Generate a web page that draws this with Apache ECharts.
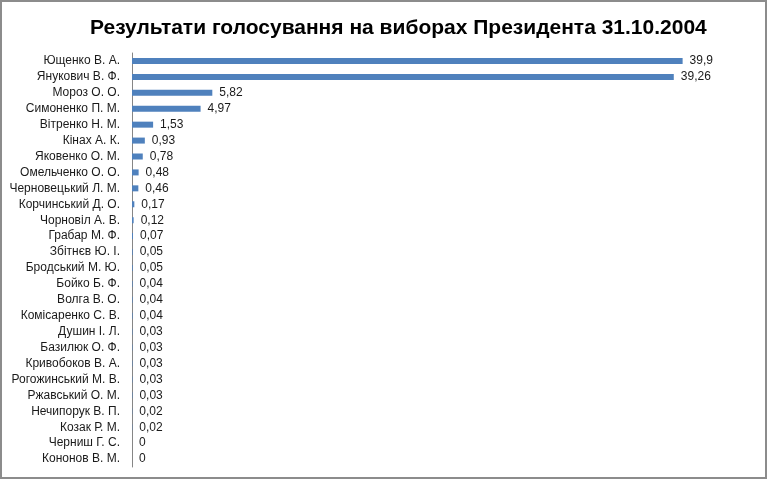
<!DOCTYPE html>
<html>
<head>
<meta charset="utf-8">
<script src="https://cdn.jsdelivr.net/npm/echarts@6/dist/echarts.min.js"></script>
<style>
  html, body { margin: 0; padding: 0; background: #fff; }
  #chart { width: 768px; height: 480px; }
</style>
</head>
<body>
<div id="chart"></div>
<script>
'use strict';

var titleText = 'Результати голосування на виборах Президента 31.10.2004';

var candidates = [
  'Ющенко В. А.', 'Янукович В. Ф.', 'Мороз О. О.', 'Симоненко П. М.',
  'Вітренко Н. М.', 'Кінах А. К.', 'Яковенко О. М.', 'Омельченко О. О.',
  'Черновецький Л. М.', 'Корчинський Д. О.', 'Чорновіл А. В.', 'Грабар М. Ф.',
  'Збітнєв Ю. І.', 'Бродський М. Ю.', 'Бойко Б. Ф.', 'Волга В. О.',
  'Комісаренко С. В.', 'Душин І. Л.', 'Базилюк О. Ф.', 'Кривобоков В. А.',
  'Рогожинський М. В.', 'Ржавський О. М.', 'Нечипорук В. П.', 'Козак Р. М.',
  'Черниш Г. С.', 'Кононов В. М.'
];

var percents = [
  39.9, 39.26, 5.82, 4.97,
  1.53, 0.93, 0.78, 0.48,
  0.46, 0.17, 0.12, 0.07,
  0.05, 0.05, 0.04, 0.04,
  0.04, 0.03, 0.03, 0.03,
  0.03, 0.03, 0.02, 0.02,
  0, 0
];

var font = 'Liberation Sans';

var chart = echarts.init(document.getElementById('chart'));
chart.setOption({
  animation: false,
  backgroundColor: '#fff',
  textStyle: { fontFamily: font },
  title: {
    text: titleText,
    left: 85,
    top: 13,
    textStyle: { fontFamily: font, fontSize: 21, fontWeight: 'bold', color: '#000' }
  },
  graphic: [{
    type: 'rect',
    shape: { x: 1, y: 1, width: 765, height: 477 },
    style: { fill: 'none', stroke: '#8c8c8c', lineWidth: 2 },
    silent: true
  }],
  grid: { left: 132, top: 53, right: 15, bottom: 13, containLabel: false },
  xAxis: {
    type: 'value',
    min: 0,
    max: 45,
    show: false
  },
  yAxis: {
    type: 'category',
    inverse: true,
    data: candidates,
    axisLine: { lineStyle: { color: '#868686', width: 1 } },
    axisTick: { show: false },
    axisLabel: { color: '#1a1a1a', fontSize: 12, margin: 12 }
  },
  series: [{
    type: 'bar',
    data: percents,
    barWidth: 6,
    itemStyle: { color: '#4f81bd' },
    label: {
      show: true,
      position: 'right',
      distance: 7,
      color: '#1a1a1a',
      fontSize: 12,
      formatter: function (p) { return String(p.value).replace('.', ','); }
    }
  }]
});
</script>
</body>
</html>
